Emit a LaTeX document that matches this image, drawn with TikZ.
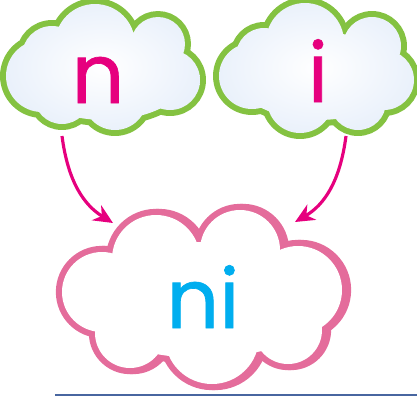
\documentclass[tikz,border=0pt]{standalone}
\usepackage{fontspec}
\newfontfamily\letterfont[FakeBold=0.8]{Poppins}
\usetikzlibrary{arrows.meta}
\definecolor{cgreen}{RGB}{132,194,65}
\definecolor{cpink}{RGB}{228,108,155}
\definecolor{cmag}{RGB}{230,0,126}
\definecolor{ccyan}{RGB}{0,174,239}
\definecolor{cline}{RGB}{72,102,160}
\definecolor{cloudin}{RGB}{234,241,251}
\newcommand\cloudLeft[1]{\path[#1] (105,76) ellipse [x radius=82, y radius=44] (42,76) circle[radius=36] (52,56) circle[radius=30] (95,44) circle[radius=40] (158,44) circle[radius=27] (170,80) circle[radius=30] (115,98) circle[radius=32] (62,96) circle[radius=28];}
\newcommand\cloudRight[1]{\path[#1] (318,76) ellipse [x radius=82, y radius=44] (252,76) circle[radius=33] (264,56) circle[radius=28] (305,42) circle[radius=39] (372,46) circle[radius=29] (384,80) circle[radius=30] (300,100) circle[radius=33] (358,102) circle[radius=28];}
\newcommand\cloudBottom[1]{\path[#1] (202,300) ellipse [x radius=125, y radius=58] (156,259) circle[radius=44] (240,250) circle[radius=40] (298,290) circle[radius=44] (102,292) circle[radius=40] (212,337) circle[radius=47] (130,333) circle[radius=35] (288,330) circle[radius=34];}
\tikzset{
  letter/.style={font=\letterfont\fontsize{47}{47}\selectfont, inner sep=0pt, anchor=base},
  arr/.style={draw=cmag, line width=1.8pt, -{Stealth[length=11pt,width=10pt,inset=3.5pt]}},
  cloudfill/.style={inner color=white, outer color=cloudin},
}
\begin{document}
\begin{tikzpicture}[x=0.02cm,y=-0.02cm]
\useasboundingbox (0,0) rectangle (417,397);
% top clouds
\cloudLeft{draw=cgreen, line width=6.8pt}
\cloudLeft{cloudfill}
\cloudRight{draw=cgreen, line width=6.8pt}
\cloudRight{cloudfill}
% bottom cloud
\begin{scope}[xshift=0.06cm]
\cloudBottom{draw=cpink, line width=7pt}
\end{scope}
\cloudBottom{draw=cpink, line width=7pt}
\cloudBottom{fill=white}
% letters
\node[letter, text=cmag] (n) at (98,103) {n};
\node[letter, text=cmag] (i) at (318,102) {i};
\node[letter, text=ccyan] (ni) at (203,328) {ni};
% arrows
\coordinate (a1) at (62,136);
\coordinate (a2) at (113,223);
\coordinate (a3) at (346,136);
\coordinate (a4) at (295,222);
\draw[arr] (a1) .. controls (68,182) and (84,205) .. (a2);
\draw[arr] (a3) .. controls (340,182) and (324,205) .. (a4);
% base line
\coordinate (l1) at (55,395);
\coordinate (l2) at (417,395);
\draw[cline, line width=1.7pt] (l1) -- (l2);
\end{tikzpicture}
\end{document}
